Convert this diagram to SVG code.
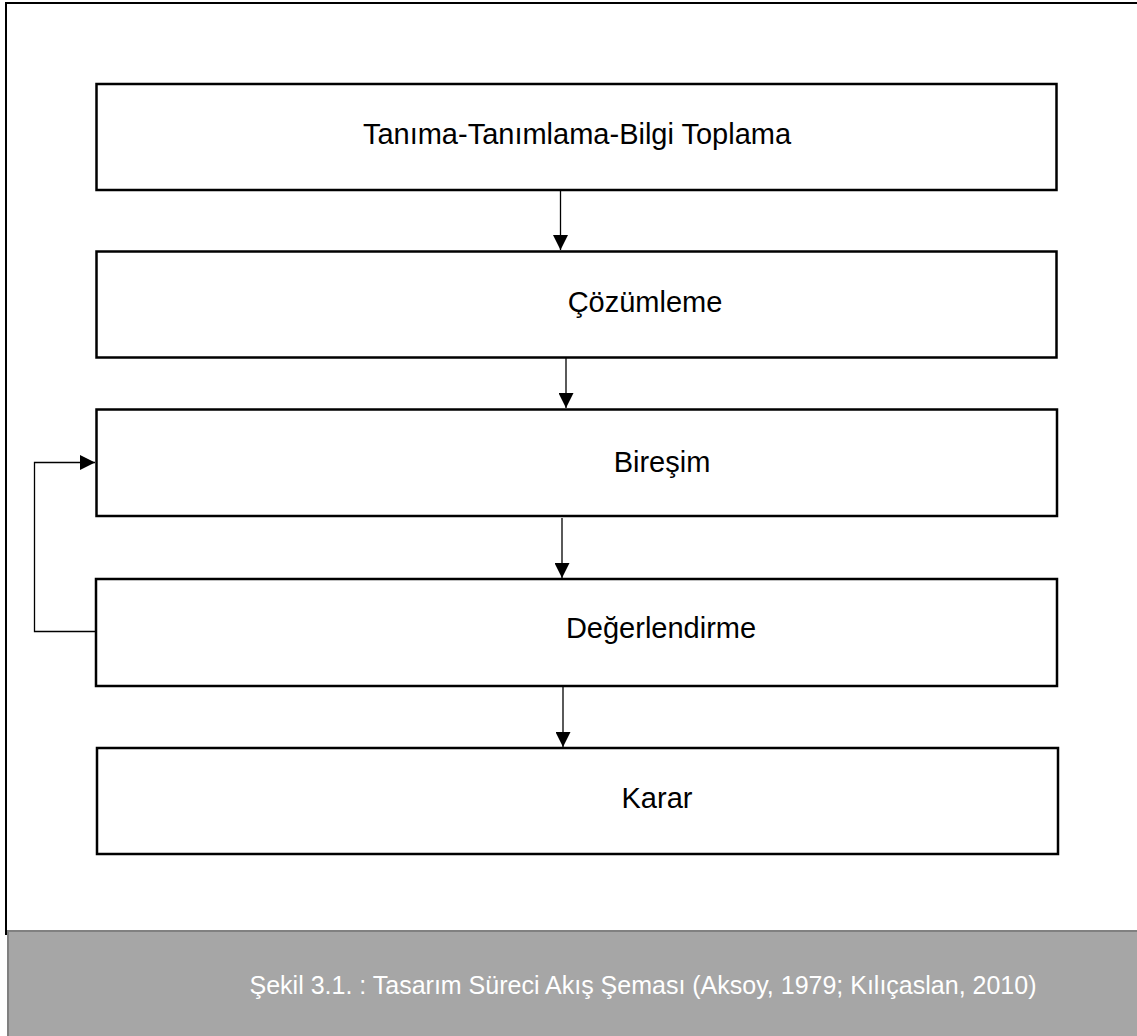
<svg xmlns="http://www.w3.org/2000/svg" width="1137" height="1036" viewBox="0 0 1137 1036">
<style>
.box{fill:#fff;stroke:#000;stroke-width:2.5}
.lbl{font-family:"Liberation Sans",Arial,sans-serif;font-size:29px;fill:#000;text-anchor:middle}
.con{fill:none;stroke:#000;stroke-width:1.3}
.cap{font-family:"Liberation Sans",Arial,sans-serif;font-size:25px;fill:#fff;text-anchor:middle}
</style>
<defs>
<marker id="ah" viewBox="0 0 10 10" refX="10" refY="5" markerWidth="15" markerHeight="15" markerUnits="userSpaceOnUse" orient="auto">
<path d="M0,0 L10,5 L0,10 Z" fill="#000"/>
</marker>
</defs>
<rect x="0" y="0" width="1137" height="1036" fill="#fff"/>
<g id="frame">
<path d="M6,935 V3 H1137" fill="none" stroke="#000" stroke-width="2"/>
</g>
<g id="caption">
<rect x="7" y="930" width="1131" height="107" fill="#a6a6a6"/>
<line x1="7" y1="931" x2="1137" y2="931" stroke="#808080" stroke-width="2"/>
<line x1="8" y1="930" x2="8" y2="1036" stroke="#808080" stroke-width="2"/>
<text class="cap" x="643" y="994">Şekil 3.1. : Tasarım Süreci Akış Şeması (Aksoy, 1979; Kılıçaslan, 2010)</text>
</g>
<g id="n1"><rect class="box" x="96.5" y="84" width="960" height="106"/><text class="lbl" x="577" y="144">Tanıma-Tanımlama-Bilgi Toplama</text></g>
<g id="n2"><rect class="box" x="96.5" y="251.5" width="960" height="106"/><text class="lbl" x="645" y="312">Çözümleme</text></g>
<g id="n3"><rect class="box" x="96.5" y="409.5" width="960.5" height="106.5"/><text class="lbl" x="662" y="472">Bireşim</text></g>
<g id="n4"><rect class="box" x="96" y="579" width="961" height="107"/><text class="lbl" x="661" y="638">Değerlendirme</text></g>
<g id="n5"><rect class="box" x="97" y="748" width="961" height="106"/><text class="lbl" x="657" y="808">Karar</text></g>
<g id="connectors">
<line class="con" x1="560.5" y1="191" x2="560.5" y2="250" marker-end="url(#ah)"/>
<line class="con" x1="566" y1="358" x2="566" y2="408" marker-end="url(#ah)"/>
<line class="con" x1="562" y1="518" x2="562" y2="578" marker-end="url(#ah)"/>
<line class="con" x1="563" y1="687" x2="563" y2="747" marker-end="url(#ah)"/>
<path class="con" d="M96,631.5 H34.5 V462.5 H95" marker-end="url(#ah)"/>
</g>
</svg>
